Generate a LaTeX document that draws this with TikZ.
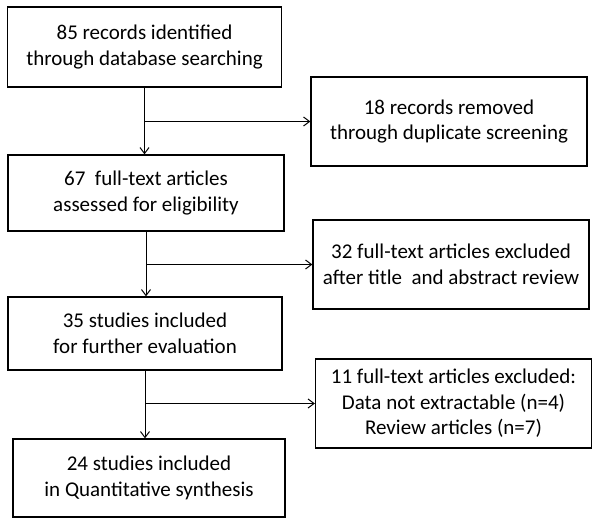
\documentclass[tikz,border=0pt]{standalone}
\usepackage{fontspec}
\setmainfont{Carlito}
\usetikzlibrary{arrows.meta, positioning}

\begin{document}
\begin{tikzpicture}[
x=1pt, y=-1pt,
block/.style  ={rectangle, draw, line width=1.3pt, align=center, inner sep=0pt, minimum width=274pt, minimum height=78pt, font=\fontsize{21}{25.5}\selectfont},
side/.style   ={block, minimum width=276pt, minimum height=89pt},
line/.style   ={draw, line width=1pt, -{Straight Barb[length=6pt, width=9pt]}},
]
\useasboundingbox (0,0) rectangle (600,525);

% Define the nodes
\node[block, minimum height=80pt] (recs)  at (144.5,47)  {85 records identified\\through database searching};
\node[side]                        (dup)   at (449,121.5) {18 records removed\\through duplicate screening};
\node[block, minimum width=276pt, minimum height=76pt] (full) at (146,193) {67~ full-text articles\\assessed for eligibility};
\node[side]                        (excl1) at (451,264.5) {32 full-text articles excluded\\after title~ and abstract review};
\node[block, minimum height=73pt]  (incl)  at (145,333.5) {35 studies included\\for further evaluation};
\node[side]                        (excl2) at (453.5,403.5) {11 full-text articles excluded:\\Data not extractable (n=4)\\Review articles (n=7)};
\node[block, minimum width=272pt]  (quant) at (149,478)  {24 studies included\\in Quantitative synthesis};

% Connect the nodes
\path[line] (recs.south) -- (recs.south |- full.north);
\path[line] (recs.south |- dup.west) -- (dup.west);
\path[line] (full.south) -- (full.south |- incl.north);
\path[line] (full.south |- excl1.west) -- (excl1.west);
\path[line] (incl.south) -- (incl.south |- quant.north);
\path[line] (incl.south |- excl2.west) -- (excl2.west);

\end{tikzpicture}
\end{document}
